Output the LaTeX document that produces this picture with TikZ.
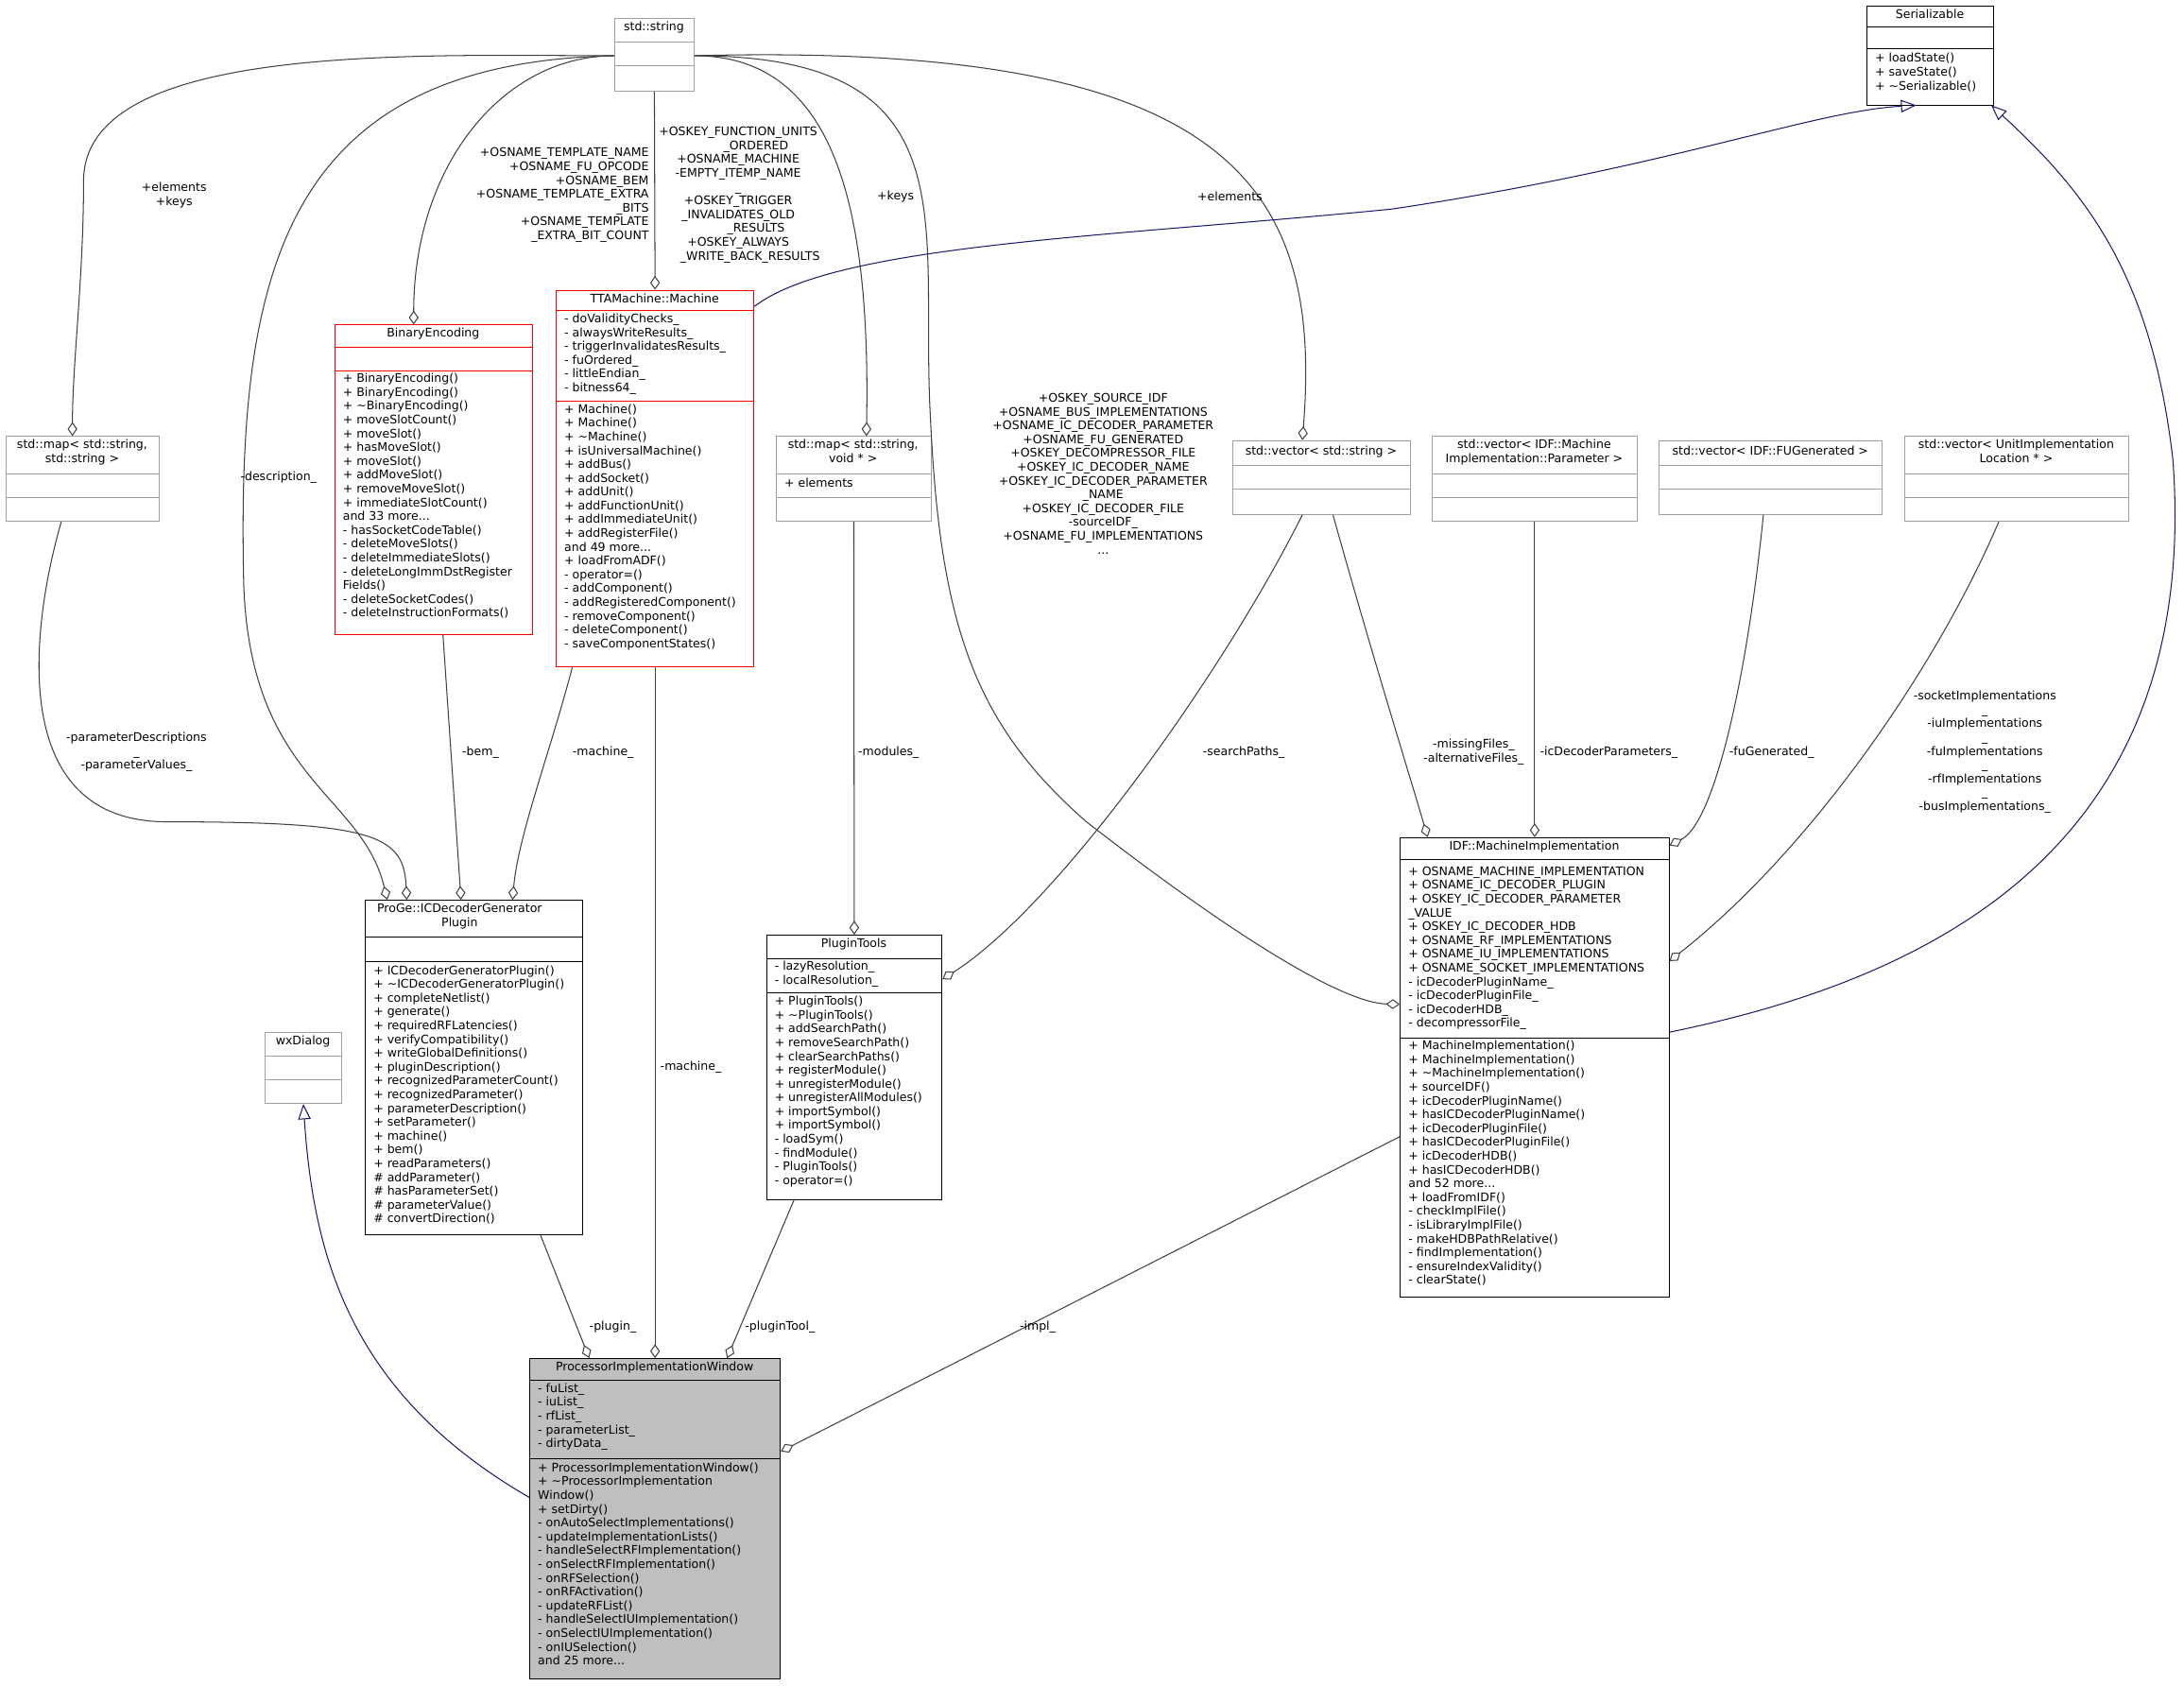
\documentclass[tikz,border=0pt]{standalone}
\usepackage{fontspec}
\setmainfont{DejaVu Sans}
\usetikzlibrary{arrows.meta}
\definecolor{edg}{HTML}{404040}
\definecolor{inh}{HTML}{191970}
\definecolor{gbox}{HTML}{A0A0A0}
\definecolor{piwf}{HTML}{BFBFBF}
\tikzset{
 cbox/.style={draw=#1,line width=0.6pt,anchor=north west,inner sep=0pt},
 tt/.style={inner sep=0pt,font=\fontsize{8.5}{9.9}\selectfont,align=center,anchor=north},
 tl/.style={inner sep=0pt,font=\fontsize{8.5}{9.9}\selectfont,align=left,anchor=north west},
 lb/.style={inner sep=0pt,font=\fontsize{8.5}{9.9}\selectfont,align=center},
 agg/.style={draw=edg,line width=0.7pt,-{Diamond[open,length=10pt,width=7pt]}},
 gen/.style={draw=inh,line width=0.7pt,-{Triangle[open,length=11pt,width=9pt]}},
}
\newcommand\cls[7]{% name x y w h color fill
 \node[cbox=#6,fill=#7,minimum width=#4pt,minimum height=#5pt] (#1) at (#2,#3) {};}
\newcommand\dv[3]{\draw[line width=0.6pt,draw=#3] ([yshift=-#2pt]#1.north west) -- ([yshift=-#2pt]#1.north east);}
\begin{document}
\begin{tikzpicture}[x=1pt,y=-1pt]
\useasboundingbox[fill=white] (0,0) rectangle (1568,1210);
% std::string
\cls{str}{441}{13}{57}{52}{gbox}{white}
\dv{str}{17}{gbox}\dv{str}{34}{gbox}
\node[tt] at (469.5,15.5) {std::string};
% Serializable
\cls{ser}{1340}{4}{91}{71}{black}{white}
\dv{ser}{15}{black}\dv{ser}{31}{black}
\node[tt] at (1385.5,6.5) {Serializable};
\node[tl] at (1346,38) {+ loadState()\\+ saveState()\\+ \textasciitilde Serializable()};
% map string string
\cls{mss}{4}{313}{110}{61}{gbox}{white}
\dv{mss}{27}{gbox}\dv{mss}{44}{gbox}
\node[tt] at (59,315.5) {std::map< std::string,\\std::string >};
% BinaryEncoding
\cls{be}{240}{233}{142}{222}{red}{white}
\dv{be}{16}{red}\dv{be}{33}{red}
\node[tt] at (311,235.5) {BinaryEncoding};
\node[tl] at (246,268) {+ BinaryEncoding()\\+ BinaryEncoding()\\+ \textasciitilde BinaryEncoding()\\+ moveSlotCount()\\+ moveSlot()\\+ hasMoveSlot()\\+ moveSlot()\\+ addMoveSlot()\\+ removeMoveSlot()\\+ immediateSlotCount()\\and 33 more...\\- hasSocketCodeTable()\\- deleteMoveSlots()\\- deleteImmediateSlots()\\- deleteLongImmDstRegister\\Fields()\\- deleteSocketCodes()\\- deleteInstructionFormats()};
% Machine
\cls{mach}{399}{208}{142}{270}{red}{white}
\dv{mach}{15}{red}\dv{mach}{80}{red}
\node[tt] at (470,210.5) {TTAMachine::Machine};
\node[tl] at (405,225) {- doValidityChecks\_\\- alwaysWriteResults\_\\- triggerInvalidatesResults\_\\- fuOrdered\_\\- littleEndian\_\\- bitness64\_};
\node[tl] at (405,290) {+ Machine()\\+ Machine()\\+ \textasciitilde Machine()\\+ isUniversalMachine()\\+ addBus()\\+ addSocket()\\+ addUnit()\\+ addFunctionUnit()\\+ addImmediateUnit()\\+ addRegisterFile()\\and 49 more...\\+ loadFromADF()\\- operator=()\\- addComponent()\\- addRegisteredComponent()\\- removeComponent()\\- deleteComponent()\\- saveComponentStates()};
% map string void*
\cls{msv}{557}{313}{111}{61}{gbox}{white}
\dv{msv}{27}{gbox}\dv{msv}{44}{gbox}
\node[tt] at (612.5,315.5) {std::map< std::string,\\void * >};
\node[tl] at (563,343) {+ elements};
% vector string
\cls{vs}{885}{316}{127}{53}{gbox}{white}
\dv{vs}{18}{gbox}\dv{vs}{35}{gbox}
\node[tt] at (948.5,320) {std::vector< std::string >};
% vector param
\cls{vp}{1028}{313}{147}{61}{gbox}{white}
\dv{vp}{27}{gbox}\dv{vp}{44}{gbox}
\node[tt] at (1101.5,315.5) {std::vector< IDF::Machine\\Implementation::Parameter >};
% vector fugen
\cls{vf}{1191}{316}{160}{53}{gbox}{white}
\dv{vf}{18}{gbox}\dv{vf}{35}{gbox}
\node[tt] at (1271,320) {std::vector< IDF::FUGenerated >};
% vector unitimpl
\cls{vu}{1367}{313}{161}{61}{gbox}{white}
\dv{vu}{27}{gbox}\dv{vu}{44}{gbox}
\node[tt] at (1447.5,315.5) {std::vector< UnitImplementation\\Location * >};
% ICDecoderGeneratorPlugin
\cls{icd}{262}{646}{156}{240}{black}{white}
\dv{icd}{27}{black}\dv{icd}{44}{black}
\node[tt] at (330,648.5) {ProGe::ICDecoderGenerator\\Plugin};
\node[tl] at (268,693) {+ ICDecoderGeneratorPlugin()\\+ \textasciitilde ICDecoderGeneratorPlugin()\\+ completeNetlist()\\+ generate()\\+ requiredRFLatencies()\\+ verifyCompatibility()\\+ writeGlobalDefinitions()\\+ pluginDescription()\\+ recognizedParameterCount()\\+ recognizedParameter()\\+ parameterDescription()\\+ setParameter()\\+ machine()\\+ bem()\\+ readParameters()\\\# addParameter()\\\# hasParameterSet()\\\# parameterValue()\\\# convertDirection()};
% wxDialog
\cls{wx}{190}{741}{55}{51}{gbox}{white}
\dv{wx}{17}{gbox}\dv{wx}{34}{gbox}
\node[tt] at (217.5,743.5) {wxDialog};
% PluginTools
\cls{pt}{550}{671}{126}{190}{black}{white}
\dv{pt}{17}{black}\dv{pt}{42}{black}
\node[tt] at (613,673.5) {PluginTools};
\node[tl] at (556,690) {- lazyResolution\_\\- localResolution\_};
\node[tl] at (556,715) {+ PluginTools()\\+ \textasciitilde PluginTools()\\+ addSearchPath()\\+ removeSearchPath()\\+ clearSearchPaths()\\+ registerModule()\\+ unregisterModule()\\+ unregisterAllModules()\\+ importSymbol()\\+ importSymbol()\\- loadSym()\\- findModule()\\- PluginTools()\\- operator=()};
% MachineImplementation
\cls{mi}{1005}{601}{193}{330}{black}{white}
\dv{mi}{16}{black}\dv{mi}{144}{black}
\node[tt] at (1101.5,603.5) {IDF::MachineImplementation};
\node[tl] at (1011,622) {+ OSNAME\_MACHINE\_IMPLEMENTATION\\+ OSNAME\_IC\_DECODER\_PLUGIN\\+ OSKEY\_IC\_DECODER\_PARAMETER\\\_VALUE\\+ OSKEY\_IC\_DECODER\_HDB\\+ OSNAME\_RF\_IMPLEMENTATIONS\\+ OSNAME\_IU\_IMPLEMENTATIONS\\+ OSNAME\_SOCKET\_IMPLEMENTATIONS\\- icDecoderPluginName\_\\- icDecoderPluginFile\_\\- icDecoderHDB\_\\- decompressorFile\_};
\node[tl] at (1011,747) {+ MachineImplementation()\\+ MachineImplementation()\\+ \textasciitilde MachineImplementation()\\+ sourceIDF()\\+ icDecoderPluginName()\\+ hasICDecoderPluginName()\\+ icDecoderPluginFile()\\+ hasICDecoderPluginFile()\\+ icDecoderHDB()\\+ hasICDecoderHDB()\\and 52 more...\\+ loadFromIDF()\\- checkImplFile()\\- isLibraryImplFile()\\- makeHDBPathRelative()\\- findImplementation()\\- ensureIndexValidity()\\- clearState()};
% PIW
\cls{piw}{380}{975}{180}{230}{black}{piwf}
\dv{piw}{16}{black}\dv{piw}{72}{black}
\node[tt] at (470,977.5) {ProcessorImplementationWindow};
\node[tl] at (386,993) {- fuList\_\\- iuList\_\\- rfList\_\\- parameterList\_\\- dirtyData\_};
\node[tl] at (386,1050) {+ ProcessorImplementationWindow()\\+ \textasciitilde ProcessorImplementation\\Window()\\+ setDirty()\\- onAutoSelectImplementations()\\- updateImplementationLists()\\- handleSelectRFImplementation()\\- onSelectRFImplementation()\\- onRFSelection()\\- onRFActivation()\\- updateRFList()\\- handleSelectIUImplementation()\\- onSelectIUImplementation()\\- onIUSelection()\\and 25 more...};
% ---------- edges
\draw[agg] ([yshift=-27pt]str.north west) .. controls (300,40) and (60,30) .. (60,130) .. controls (60,200) and (52,260) .. ([xshift=48pt]mss.north west);
\node[lb] at (125,140) {+elements\\+keys};
\draw[agg] ([yshift=-27pt]str.north west) .. controls (360,40) and (297,120) .. ([xshift=57pt]be.north west);
\node[lb,align=right,anchor=north east] at (466,106) {+OSNAME\_TEMPLATE\_NAME\\+OSNAME\_FU\_OPCODE\\+OSNAME\_BEM\\+OSNAME\_TEMPLATE\_EXTRA\\\_BITS\\+OSNAME\_TEMPLATE\\\_EXTRA\_BIT\_COUNT};
\draw[agg] (str.south) -- (mach.north);
\node[lb,anchor=north] at (530,91) {+OSKEY\_FUNCTION\_UNITS\\\hspace*{3em}\_ORDERED\\+OSNAME\_MACHINE\\-EMPTY\_ITEMP\_NAME\\\_\\+OSKEY\_TRIGGER\\\_INVALIDATES\_OLD\\\hspace*{3em}\_RESULTS\\+OSKEY\_ALWAYS\\\hspace*{2em}\_WRITE\_BACK\_RESULTS};
\draw[agg] ([yshift=-27pt]str.north east) .. controls (600,40) and (625,150) .. ([xshift=65pt]msv.north west);
\node[lb] at (643,141) {+keys};
\draw[agg] ([yshift=-27pt]str.north east) .. controls (880,30) and (950,130) .. ([xshift=50pt]vs.north west);
\node[lb] at (883,141) {+elements};
\draw[agg] ([yshift=-27pt]str.north east) .. controls (700,40) and (660,160) .. (668,300) .. controls (675,450) and (700,520) .. (780,590) .. controls (870,660) and (960,720) .. ([yshift=-120pt]mi.north west);
\node[lb] at (792,340) {+OSKEY\_SOURCE\_IDF\\+OSNAME\_BUS\_IMPLEMENTATIONS\\+OSNAME\_IC\_DECODER\_PARAMETER\\+OSNAME\_FU\_GENERATED\\+OSKEY\_DECOMPRESSOR\_FILE\\+OSKEY\_IC\_DECODER\_NAME\\+OSKEY\_IC\_DECODER\_PARAMETER\\\_NAME\\+OSKEY\_IC\_DECODER\_FILE\\-sourceIDF\_\\+OSNAME\_FU\_IMPLEMENTATIONS\\...};
\draw[agg] ([yshift=-27pt]str.north west) .. controls (200,45) and (170,200) .. (175,420) .. controls (180,560) and (260,570) .. ([xshift=16pt]icd.north west);
\node[lb] at (200,343) {-description\_};
\draw[agg] ([xshift=40pt]mss.south west) .. controls (25,440) and (0,590) .. (120,590) .. controls (270,590) and (290,600) .. ([xshift=30pt]icd.north west);
\node[lb] at (98,540) {-parameterDescriptions\\\_\\-parameterValues\_};
\draw[agg] ([xshift=78pt]be.south west) -- ([xshift=69pt]icd.north west);
\node[lb] at (345,540) {-bem\_};
\draw[agg] ([xshift=12pt]mach.south west) .. controls (395,540) and (372,600) .. ([xshift=106pt]icd.north west);
\node[lb] at (433,540) {-machine\_};
\draw[agg] ([xshift=56pt]msv.south west) -- (pt.north);
\node[lb] at (638,540) {-modules\_};
\draw[agg] ([xshift=50pt]vs.south west) .. controls (880,480) and (760,650) .. ([yshift=-32pt]pt.north east);
\node[lb] at (893,540) {-searchPaths\_};
\draw[agg] ([xshift=72pt]vs.south west) .. controls (985,470) and (1010,550) .. ([xshift=20pt]mi.north west);
\node[lb] at (1058,540) {-missingFiles\_\\-alternativeFiles\_};
\draw[agg] (vp.south) -- (mi.north);
\node[lb] at (1155,540) {-icDecoderParameters\_};
\draw[agg] ([xshift=75pt]vf.south west) .. controls (1255,480) and (1232,590) .. ([yshift=-6pt]mi.north east);
\node[lb] at (1272,540) {-fuGenerated\_};
\draw[agg] ([xshift=68pt]vu.south west) .. controls (1390,480) and (1300,610) .. ([yshift=-89pt]mi.north east);
\node[lb] at (1425,540) {-socketImplementations\\\_\\-iuImplementations\\\_\\-fuImplementations\\\_\\-rfImplementations\\\_\\-busImplementations\_};
\draw[gen] ([yshift=-12pt]mach.north east) .. controls (600,175) and (800,170) .. (1000,150) .. controls (1200,120) and (1300,80) .. ([xshift=-10pt]ser.south);
\draw[gen] ([yshift=-140pt]mi.north east) .. controls (1400,700) and (1580,600) .. (1560,330) .. controls (1545,200) and (1500,140) .. ([xshift=-2pt]ser.south east);
\draw[gen] ([yshift=-100pt]piw.north west) .. controls (250,1000) and (225,900) .. (wx.south);
\draw[agg] ([xshift=126pt]icd.south west) -- ([xshift=43pt]piw.north west);
\node[lb] at (440,953) {-plugin\_};
\draw[agg] (mach.south) -- (piw.north);
\node[lb] at (496,766) {-machine\_};
\draw[agg] ([xshift=20pt]pt.south west) -- ([xshift=142pt]piw.north west);
\node[lb] at (560,953) {-pluginTool\_};
\draw[agg] ([yshift=-215pt]mi.north west) -- ([yshift=-67pt]piw.north east);
\node[lb] at (745,953) {-impl\_};
\end{tikzpicture}
\end{document}
